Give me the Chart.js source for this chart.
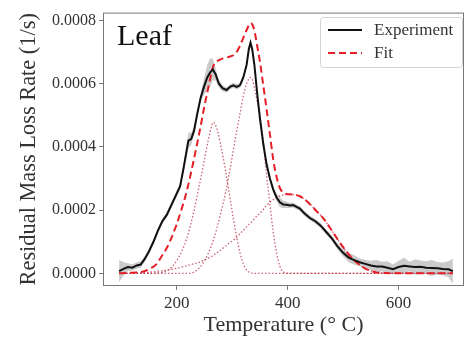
<!DOCTYPE html>
<html>
<head>
<meta charset="utf-8">
<script src="https://cdn.jsdelivr.net/npm/chart.js@4.4.1/dist/chart.umd.min.js"></script>
<style>
  html, body { margin: 0; padding: 0; background: #fff; }
</style>
</head>
<body>
<canvas id="chart" width="466" height="337"></canvas>
<script>
// rates below are in units of 1e-4 1/s, temperatures in deg C
const U = 1e-4;

const expTemp = [96, 105, 112, 120, 128, 135, 142, 150, 158, 166, 174, 182, 190, 198, 206, 212, 216, 221, 226, 231,
  237, 243, 249, 255, 260, 265, 270, 276, 283, 290, 296, 302, 308, 314, 320, 326, 330, 333, 336, 340,
  345, 350, 356, 362, 368, 374, 380, 386, 392, 398, 404, 410, 416, 422, 430, 440, 450, 460, 470, 480,
  490, 500, 510, 520, 530, 540, 550, 560, 570, 580, 590, 600, 610, 620, 630, 640, 650, 660, 670, 680, 690, 698];
const expRate = [0.07, 0.15, 0.20, 0.18, 0.25, 0.28, 0.45, 0.70, 1.00, 1.35, 1.65, 1.85, 2.15, 2.45, 2.75, 3.30, 3.70, 4.20, 4.25, 4.50,
  5.05, 5.55, 5.90, 6.20, 6.35, 6.45, 6.30, 6.00, 5.85, 5.80, 5.90, 5.95, 5.90, 5.95, 6.20, 6.60, 7.10, 7.30, 7.10, 6.60,
  5.70, 4.90, 4.10, 3.45, 3.00, 2.65, 2.40, 2.25, 2.18, 2.17, 2.15, 2.16, 2.10, 2.05, 1.90, 1.75, 1.65, 1.50, 1.30, 1.10,
  0.85, 0.65, 0.50, 0.42, 0.35, 0.30, 0.25, 0.22, 0.22, 0.18, 0.13, 0.20, 0.24, 0.22, 0.20, 0.21, 0.18, 0.17, 0.16, 0.14, 0.13, 0.07];
// half width of the grey band around the experiment
const expSpread = [0.35, 0.2, 0.12, 0.1, 0.1, 0.1, 0.08, 0.08, 0.08, 0.08, 0.08, 0.08, 0.1, 0.1, 0.1, 0.12, 0.2, 0.25, 0.2, 0.12,
  0.1, 0.12, 0.25, 0.4, 0.45, 0.35, 0.2, 0.12, 0.1, 0.08, 0.08, 0.08, 0.08, 0.08, 0.08, 0.08, 0.1, 0.1, 0.1, 0.08,
  0.08, 0.08, 0.08, 0.08, 0.08, 0.1, 0.12, 0.15, 0.12, 0.1, 0.08, 0.08, 0.08, 0.08, 0.08, 0.08, 0.08, 0.08, 0.08, 0.08,
  0.1, 0.12, 0.15, 0.15, 0.12, 0.12, 0.15, 0.2, 0.15, 0.2, 0.15, 0.2, 0.25, 0.15, 0.25, 0.2, 0.2, 0.25, 0.2, 0.2, 0.25, 0.4];

const fitTemp = [96, 110, 125, 140, 152, 164, 173, 182, 191, 200, 209, 218, 230, 242, 250, 256, 262, 266, 272, 280,
  288, 294, 302, 308, 314, 320, 326, 330, 333, 337, 341, 345, 350, 356, 362, 368, 374, 380, 386, 392,
  398, 404, 414, 422, 430, 440, 452, 464, 476, 488, 500, 512, 524, 536, 548, 560, 575, 600, 650, 698];
const fitRate = [0, 0.01, 0.03, 0.06, 0.15, 0.3, 0.55, 0.8, 1.15, 1.56, 2.05, 2.6, 3.53, 4.56, 5.3, 5.8, 6.3, 6.56, 6.7, 6.78,
  6.82, 6.85, 6.9, 7.0, 7.2, 7.45, 7.7, 7.85, 7.92, 7.85, 7.6, 7.2, 6.7, 5.95, 5.2, 4.4, 3.6, 3.05, 2.7, 2.56,
  2.51, 2.5, 2.48, 2.44, 2.35, 2.19, 1.97, 1.75, 1.45, 1.13, 0.83, 0.56, 0.35, 0.19, 0.09, 0.03, 0.01, 0, 0, 0];
const peak1Rate = [0, 0, 0, 0, 0, 0.01, 0.03, 0.08, 0.2, 0.4, 0.7, 1.1, 1.9, 2.9, 3.6, 4.15, 4.6, 4.78, 4.6, 4.0,
  3.25, 2.6, 1.75, 1.15, 0.65, 0.3, 0.1, 0.04, 0.02, 0, 0, 0, 0, 0, 0, 0, 0, 0, 0, 0,
  0, 0, 0, 0, 0, 0, 0, 0, 0, 0, 0, 0, 0, 0, 0, 0, 0, 0, 0, 0];
const peak2Rate = [0, 0, 0, 0, 0, 0, 0, 0, 0, 0, 0, 0, 0.03, 0.2, 0.4, 0.6, 0.85, 1.05, 1.4, 1.95,
  2.55, 3.1, 3.9, 4.5, 5.05, 5.6, 6.0, 6.15, 6.2, 6.1, 5.8, 5.45, 5.0, 4.2, 3.1, 2.2, 1.3, 0.65, 0.22, 0.05,
  0.01, 0, 0, 0, 0, 0, 0, 0, 0, 0, 0, 0, 0, 0, 0, 0, 0, 0, 0, 0];
const peak3Rate = [0, 0, 0.01, 0.02, 0.04, 0.06, 0.08, 0.1, 0.13, 0.16, 0.2, 0.24, 0.3, 0.36, 0.42, 0.47, 0.53, 0.57, 0.65, 0.75,
  0.86, 0.95, 1.05, 1.15, 1.25, 1.36, 1.48, 1.55, 1.6, 1.67, 1.75, 1.82, 1.9, 2.02, 2.15, 2.25, 2.33, 2.4, 2.45, 2.48,
  2.5, 2.5, 2.48, 2.44, 2.35, 2.19, 1.97, 1.75, 1.45, 1.13, 0.83, 0.56, 0.35, 0.19, 0.09, 0.03, 0.01, 0, 0, 0];

const xTicks = [200, 400, 600];
const yTicks = [0, 0.0002, 0.0004, 0.0006, 0.0008];

const pts = (xs, ys) => xs.map((x, i) => ({ x: x, y: ys[i] * U }));
const serif = '"Liberation Serif", "DejaVu Serif", serif';

const compStyle = {
  borderColor: 'rgba(185, 45, 70, 0.75)',
  borderWidth: 1.3,
  borderDash: [1.5, 2],
  pointRadius: 0,
  cubicInterpolationMode: 'monotone',
  fill: false,
  order: 3
};

// frame, "Leaf" label and the legend box
const decor = {
  id: 'decor',
  afterDraw(chart) {
    const ctx = chart.ctx;
    const a = chart.chartArea;
    ctx.save();
    ctx.strokeStyle = '#777';
    ctx.lineWidth = 1;
    ctx.strokeRect(a.left + 0.5, a.top + 0.5, a.right - a.left - 1, a.bottom - a.top - 1);

    ctx.fillStyle = '#111';
    ctx.font = '30px ' + serif;
    ctx.textBaseline = 'alphabetic';
    ctx.fillText('Leaf', 117, 45);

    ctx.beginPath();
    ctx.roundRect(320.5, 17.5, 142, 50, 3);
    ctx.fillStyle = 'rgba(255,255,255,0.85)';
    ctx.fill();
    ctx.strokeStyle = '#d4d4d4';
    ctx.stroke();

    const items = chart.data.datasets.filter(d => d.showInLegend);
    items.forEach((d, i) => {
      const y = 30 + i * 23;
      ctx.beginPath();
      ctx.setLineDash(d.borderDash || []);
      ctx.strokeStyle = d.borderColor;
      ctx.lineWidth = d.borderWidth;
      ctx.moveTo(328, y);
      ctx.lineTo(362, y);
      ctx.stroke();
      ctx.setLineDash([]);
      ctx.fillStyle = '#333';
      ctx.font = '17px ' + serif;
      ctx.textBaseline = 'middle';
      ctx.fillText(d.label, 374, y + 1);
    });
    ctx.restore();
  }
};

new Chart(document.getElementById('chart'), {
  type: 'line',
  data: {
    datasets: [
      {
        label: 'Experiment',
        showInLegend: true,
        data: pts(expTemp, expRate),
        borderColor: '#111',
        borderWidth: 2,
        pointRadius: 0,
        fill: false,
        order: 0
      },
      {
        label: 'Fit',
        showInLegend: true,
        data: pts(fitTemp, fitRate),
        borderColor: 'rgb(228, 30, 38)',
        borderWidth: 2,
        borderDash: [7, 4],
        pointRadius: 0,
        cubicInterpolationMode: 'monotone',
        fill: false,
        order: 1
      },
      Object.assign({ label: 'peak 1', data: pts(fitTemp, peak1Rate) }, compStyle),
      Object.assign({ label: 'peak 2', data: pts(fitTemp, peak2Rate) }, compStyle),
      Object.assign({ label: 'peak 3', data: pts(fitTemp, peak3Rate) }, compStyle),
      {
        label: 'band low',
        data: pts(expTemp, expRate.map((v, i) => v - expSpread[i])),
        borderWidth: 0,
        pointRadius: 0,
        fill: false,
        order: 5
      },
      {
        label: 'band high',
        data: pts(expTemp, expRate.map((v, i) => v + expSpread[i])),
        borderWidth: 0,
        pointRadius: 0,
        backgroundColor: 'rgba(160, 160, 160, 0.55)',
        fill: 5,
        order: 4
      }
    ]
  },
  options: {
    responsive: false,
    animation: false,
    layout: { padding: { top: 8, right: 2, left: 0, bottom: 0 } },
    plugins: {
      legend: { display: false },
      tooltip: { enabled: false }
    },
    scales: {
      x: {
        type: 'linear',
        min: 67,
        max: 718,
        afterBuildTicks: s => { s.ticks = xTicks.map(v => ({ value: v })); },
        afterFit: s => { s.height = 51; },
        border: { display: false },
        grid: { drawOnChartArea: false, tickLength: 4, tickColor: '#777' },
        ticks: {
          padding: 3,
          color: '#333',
          font: { family: serif, size: 17 },
          maxRotation: 0
        },
        title: {
          display: true,
          text: 'Temperature (° C)',
          color: '#333',
          font: { family: serif, size: 22, lineHeight: 1 },
          padding: { top: 0, bottom: 1 }
        }
      },
      y: {
        min: -0.00004,
        max: 0.000825,
        afterBuildTicks: s => { s.ticks = yTicks.map(v => ({ value: v })); },
        afterFit: s => { s.width = 103; },
        border: { display: false },
        grid: { drawOnChartArea: false, tickLength: 4, tickColor: '#777' },
        ticks: {
          padding: 3,
          color: '#333',
          font: { family: serif, size: 16 },
          callback: v => v.toFixed(4)
        },
        title: {
          display: true,
          text: 'Residual Mass Loss Rate (1/s)',
          color: '#333',
          font: { family: serif, size: 22.4, lineHeight: 1 },
          padding: { top: 18, bottom: 0 }
        }
      }
    }
  },
  plugins: [decor]
});
</script>
</body>
</html>
